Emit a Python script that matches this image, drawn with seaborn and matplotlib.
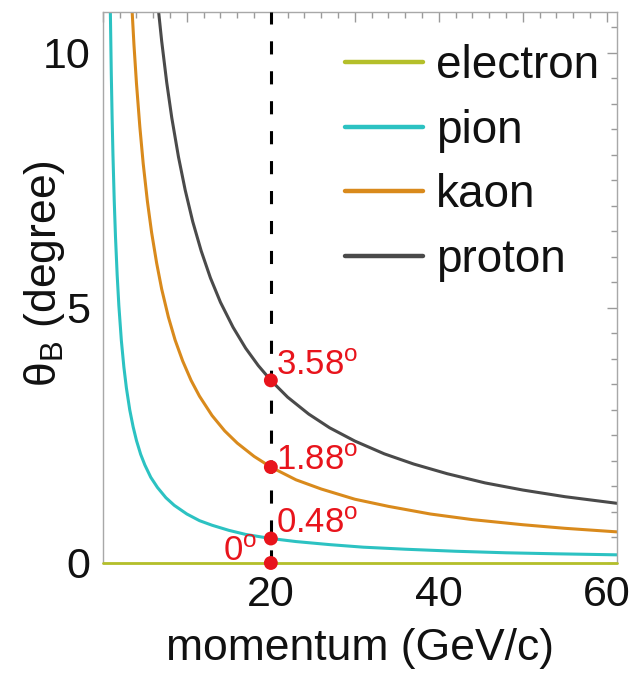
import matplotlib
matplotlib.use("Agg")
import matplotlib.pyplot as plt
from matplotlib.ticker import MultipleLocator, FixedLocator, FuncFormatter
import seaborn as sns
import pandas as pd

# ---------------- data ----------------
electron_p = [0.0, 61.2]
electron_theta = [0.0, 0.0]

pion_p = [0.85, 0.9, 1.0, 1.1, 1.2, 1.35, 1.5, 1.7, 1.9, 2.2, 2.5, 2.8, 3.2, 3.6, 4.0,
          4.5, 5.0, 5.7, 6.5, 7.5, 8.5, 10, 11.5, 13, 15, 17, 20, 23, 27, 31, 36,
          42, 48, 54, 61.2]
pion_theta = [11.3, 10.7, 9.6, 8.73, 8.0, 7.11, 6.4, 5.65, 5.05, 4.36, 3.84, 3.43, 3.0,
              2.67, 2.4, 2.13, 1.92, 1.68, 1.48, 1.28, 1.13, 0.96, 0.83, 0.74, 0.64,
              0.56, 0.48, 0.42, 0.36, 0.31, 0.27, 0.23, 0.2, 0.18, 0.16]

kaon_p = [3.4, 3.7, 4.0, 4.4, 4.8, 5.3, 5.8, 6.4, 7.0, 7.8, 8.6, 9.5, 10.5, 11.5, 13,
          14.5, 16, 18, 20, 23, 26, 30, 34, 39, 44, 50, 55, 61.2]
kaon_theta = [11.06, 10.16, 9.4, 8.55, 7.83, 7.09, 6.48, 5.88, 5.37, 4.82, 4.37, 3.96,
              3.58, 3.27, 2.89, 2.59, 2.35, 2.09, 1.88, 1.63, 1.45, 1.25, 1.11, 0.96,
              0.85, 0.75, 0.68, 0.61]

proton_p = [6.5, 7.0, 7.6, 8.2, 9.0, 9.8, 10.7, 11.7, 12.8, 14, 15.5, 17, 18.5, 20, 22,
            24.5, 27, 30, 33.5, 37, 41, 45.5, 50, 55, 61.2]
proton_theta = [11.02, 10.23, 9.42, 8.73, 7.96, 7.31, 6.69, 6.12, 5.59, 5.11, 4.62, 4.21,
                3.87, 3.58, 3.25, 2.92, 2.65, 2.39, 2.14, 1.94, 1.75, 1.57, 1.43, 1.3,
                1.17]

particles = ["electron", "pion", "kaon", "proton"]
colors = ["#b4bf2a", "#2cc2c2", "#d98a1c", "#4a4a4a"]

marker_p = [20, 20, 20, 20]
marker_theta = [3.58, 1.88, 0.48, 0.0]
marker_labels = ["3.58", "1.88", "0.48", "0"]

x_ticklabels = {20: "20", 40: "40", 60: "60"}
y_ticks = [0, 5, 10]

# ---------------- build table ----------------
rows = []
for name, ps, ts in [("electron", electron_p, electron_theta),
                     ("pion", pion_p, pion_theta),
                     ("kaon", kaon_p, kaon_theta),
                     ("proton", proton_p, proton_theta)]:
    for p, t in zip(ps, ts):
        rows.append({"momentum": p, "theta": t, "particle": name})
df = pd.DataFrame(rows)
mk = pd.DataFrame({"momentum": marker_p, "theta": marker_theta})

# ---------------- style ----------------
sns.set_style("white")
plt.rcParams["font.family"] = ["Liberation Sans", "DejaVu Sans"]
plt.rcParams["mathtext.fontset"] = "custom"
plt.rcParams["mathtext.rm"] = "Liberation Sans"
plt.rcParams["mathtext.it"] = "Liberation Sans:italic"

fig = plt.figure(figsize=(6.39, 6.74), dpi=100)
ax = fig.add_axes([0.161, 0.1647, 0.8044, 0.8175])

sns.lineplot(data=df, x="momentum", y="theta", hue="particle", hue_order=particles,
             palette=colors, estimator=None, sort=False, linewidth=2.2, ax=ax)

# electron line sits on the x axis; do not clip it
ax.lines[0].set_clip_on(False)
ax.lines[0].set_zorder(5)
ax.lines[0].set_linewidth(2.0)

# dashed line at 20 GeV/c
ax.axvline(20, color="black", linewidth=2.2, linestyle=(0, (4.3, 5.5)), zorder=3)

red = "#e8141c"
sns.scatterplot(data=mk, x="momentum", y="theta", color=red, s=100,
                edgecolor="none", zorder=6, clip_on=False, ax=ax, legend=False)

fs_red = 25
ax.text(20.6, 3.69, marker_labels[0] + r"$^{\mathrm{o}}$", color=red, fontsize=fs_red,
        ha="left", va="baseline")
ax.text(20.6, 1.82, marker_labels[1] + r"$^{\mathrm{o}}$", color=red, fontsize=fs_red,
        ha="left", va="baseline")
ax.text(20.6, 0.59, marker_labels[2] + r"$^{\mathrm{o}}$", color=red, fontsize=fs_red,
        ha="left", va="baseline")
ax.text(18.4, 0.03, marker_labels[3] + r"$^{\mathrm{o}}$", color=red, fontsize=fs_red,
        ha="right", va="baseline")

# ---------------- axes ----------------
ax.set_xlim(0, 61.2)
ax.set_ylim(0, 10.8)
ax.xaxis.set_major_locator(MultipleLocator(10))
ax.xaxis.set_minor_locator(MultipleLocator(2))
ax.xaxis.set_major_formatter(FuncFormatter(lambda v, pos: x_ticklabels.get(int(round(v)), "")))
ax.yaxis.set_major_locator(FixedLocator(y_ticks))
ax.yaxis.set_minor_locator(MultipleLocator(0.5))
ax.tick_params(which="both", direction="in", top=True, right=True, color="#9a9a9a", width=1)
ax.tick_params(which="major", length=7, labelsize=31, pad=9, labelcolor="#111111")
ax.tick_params(which="minor", length=4)
for s in ax.spines.values():
    s.set_color("#a8a8a8")
    s.set_linewidth(1.0)

ax.set_xlabel("momentum (GeV/c)", fontsize=32, labelpad=9, color="#111111")
ax.set_ylabel(r"θ$_{\mathrm{B}}$ (degree)", fontsize=32, color="#111111")
ax.yaxis.set_label_coords(-0.07, 0.525)

# ---------------- legend ----------------
handles, labels = ax.get_legend_handles_labels()
hl = [(h, l) for h, l in zip(handles, labels) if l in particles]
leg = ax.legend([h for h, _ in hl], [l for _, l in hl], loc="upper left",
                bbox_to_anchor=(0.471, 0.942), frameon=False, fontsize=33,
                handlelength=1.7, handletextpad=0.28, labelspacing=0.45, borderpad=0,
                borderaxespad=0)
for h in leg.legend_handles:
    h.set_linewidth(3.2)
for t in leg.get_texts():
    t.set_color("#111111")

fig.savefig("out.png", dpi=100)
